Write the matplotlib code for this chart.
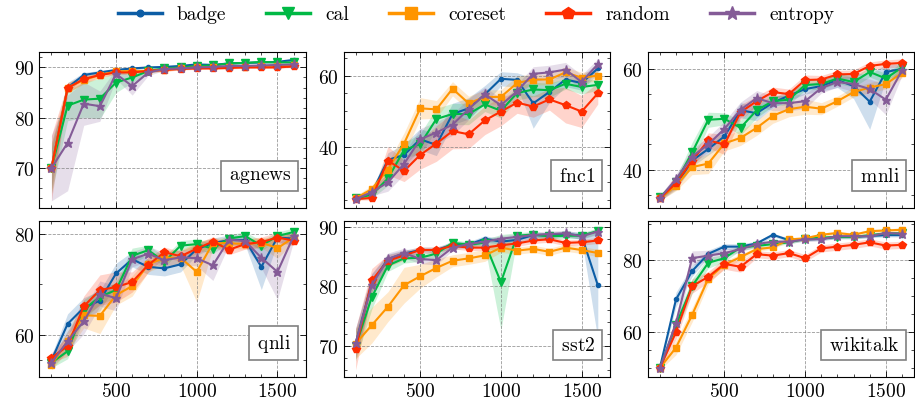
import matplotlib
matplotlib.use('Agg')
import matplotlib.pyplot as plt
from matplotlib.ticker import MultipleLocator, AutoMinorLocator
from matplotlib.lines import Line2D
import numpy as np

# budget (number of labelled samples)
budget = [100, 200, 300, 400, 500, 600, 700, 800, 900, 1000, 1100, 1200, 1300, 1400, 1500, 1600]

methods = ['badge', 'cal', 'coreset', 'random', 'entropy']
colors = ['#0C5DA5', '#00B945', '#FF9500', '#FF2C00', '#845B97']
markers = ['o', 'v', 's', 'p', '*']
msizes = [3, 5.5, 5, 5.5, 6.5]

# mean accuracy per dataset
agnews_mean = {
    'badge':   [70, 86, 88.5, 89, 89.5, 89.8, 90, 90.1, 90.3, 90.6, 90.5, 90.8, 90.9, 91, 91.1, 91.5],
    'cal':     [70, 82.4, 83.6, 83.8, 87, 88, 89.3, 89.8, 90, 90.3, 90.4, 90.8, 90.9, 91.1, 91.0, 91.0],
    'coreset': [70, 86, 87.5, 88.5, 89.2, 89.3, 89.3, 89.5, 89.8, 90, 90, 90.1, 90.1, 90.3, 90.3, 90.4],
    'random':  [70, 85.9, 87.7, 88.5, 89, 89, 89.3, 89.5, 89.7, 89.8, 89.8, 89.9, 90, 90, 90, 90.2],
    'entropy': [70, 75, 82.8, 82.3, 88.7, 86.3, 89, 89.7, 89.8, 90, 90.1, 90.3, 90.3, 90.4, 90.5, 90.6],
}
agnews_std = {
    'badge':   [4, 1.0, 0.5, 0.4, 0.3, 0.3, 0.2, 0.2, 0.2, 0.2, 0.2, 0.2, 0.2, 0.2, 0.2, 0.2],
    'cal':     [5, 3, 3.5, 4, 2.0, 1.0, 0.5, 0.3, 0.3, 0.2, 0.2, 0.2, 0.2, 0.2, 0.2, 0.2],
    'coreset': [5, 1.0, 0.8, 0.6, 0.4, 0.4, 0.3, 0.3, 0.2, 0.2, 0.2, 0.2, 0.2, 0.2, 0.2, 0.2],
    'random':  [6.5, 1.0, 0.8, 0.5, 0.4, 0.4, 0.3, 0.3, 0.2, 0.2, 0.2, 0.2, 0.2, 0.2, 0.2, 0.2],
    'entropy': [6.5, 9.5, 4.3, 3.0, 1.0, 1.8, 0.6, 0.3, 0.3, 0.2, 0.2, 0.2, 0.2, 0.2, 0.2, 0.2],
}

fnc1_mean = {
    'badge':   [25.3, 27, 36.3, 37.7, 42.1, 40.5, 49.2, 50.8, 54.7, 59.1, 58.8, 52.2, 55.4, 58.9, 57.9, 62],
    'cal':     [25.5, 26.5, 31.1, 39.1, 40.7, 47.8, 49.2, 49.2, 51.9, 50.1, 55.1, 56.1, 55.9, 57.7, 56.8, 57.4],
    'coreset': [25.5, 28.1, 33.6, 40.9, 50.8, 50.5, 56.3, 52.2, 54, 54, 57.9, 58.9, 58.9, 60.9, 59.4, 60],
    'random':  [25.3, 25.6, 36.1, 33.2, 37.7, 40.9, 44.4, 43.5, 47.4, 49.9, 52.4, 51.3, 53.3, 51.7, 49.9, 55],
    'entropy': [25.3, 27.2, 30, 35.2, 42.1, 44, 46.2, 50.6, 54.7, 51.7, 55.6, 60.5, 60.9, 61.7, 58.2, 63.2],
}
fnc1_std = {
    'badge':   [0.5, 1, 2, 3, 3, 3, 3, 3, 2.5, 2, 2, 7, 3, 2, 2, 1.5],
    'cal':     [0.5, 1, 2, 2, 3, 3, 3, 3, 2, 2, 2, 2, 2, 1.5, 2, 1.5],
    'coreset': [0.7, 1, 2, 3, 3, 2.5, 2, 2, 2, 2, 2, 1.5, 1.5, 1.5, 1.5, 1.5],
    'random':  [0.3, 0.6, 4, 3, 4, 5, 5, 4, 4, 4, 3, 3, 3, 5, 4.5, 3],
    'entropy': [0.5, 1, 2.5, 3, 3, 3, 3, 3, 2, 2, 2, 2, 2, 2, 2, 1.5],
}

mnli_mean = {
    'badge':   [34.3, 37, 41.8, 44.1, 46.6, 51.8, 51.2, 53.3, 54.7, 56, 56.6, 57.8, 56.6, 53.5, 59.4, 60],
    'cal':     [34.5, 37.5, 43.4, 49.9, 50.1, 48.3, 51.8, 53.6, 53.9, 56.8, 57, 58.1, 57.4, 59.4, 58.1, 60.3],
    'coreset': [34.3, 36.8, 40.5, 41.2, 45.2, 46.3, 48.3, 50.7, 52, 52.5, 52.1, 53.6, 55.4, 56.3, 57, 59.2],
    'random':  [34.3, 37.3, 41.8, 45.8, 45, 51.4, 53.6, 55.4, 55, 57.8, 57.9, 58.9, 59, 60.6, 61, 61.2],
    'entropy': [34.3, 38.1, 42.6, 45, 48.1, 51.9, 54.2, 53.2, 53.2, 53.6, 56.2, 57.4, 57, 56, 53.9, 59.7],
}
mnli_std = {
    'badge':   [0.5, 1, 1.2, 1.2, 1.5, 1.5, 1.5, 1, 1, 1, 1, 1.5, 2.5, 5.5, 1.5, 1],
    'cal':     [0.5, 1, 2, 1.5, 1.2, 1.5, 1.5, 1, 1, 1, 1, 1, 1, 1, 1, 1],
    'coreset': [0.5, 1, 1.5, 2, 1.5, 1.5, 1.5, 1.5, 1.5, 1.5, 1.2, 1, 1, 1, 1, 1],
    'random':  [0.5, 1, 1.2, 1.5, 2, 1.5, 1, 1, 1, 1, 0.8, 0.8, 0.8, 0.8, 0.8, 0.8],
    'entropy': [0.5, 1, 1.5, 1.5, 1.5, 1.5, 1.5, 1.5, 1.5, 1.5, 1, 1, 1.5, 2, 3, 1],
}

qnli_mean = {
    'badge':   [54.9, 62.1, 65.3, 66.7, 72.1, 74.9, 73.4, 73.1, 73.9, 76.9, 78.1, 78.7, 78.7, 73.4, 79.2, 79],
    'cal':     [54.4, 56.7, 64.9, 67.5, 68.8, 75.6, 76.7, 74.4, 77.6, 77.9, 77, 79, 79.5, 77.6, 79.5, 80.3],
    'coreset': [54, 58.7, 63.8, 63.7, 67.8, 69.6, 73.9, 75.2, 75.2, 72.4, 78.1, 78.1, 77.9, 78.2, 77.1, 79.2],
    'random':  [55.4, 57.7, 65.6, 68.8, 69.4, 70.4, 73.8, 76.3, 75.5, 77, 78.4, 76.8, 77.9, 78.3, 79.2, 78.6],
    'entropy': [54.4, 58.7, 62.6, 68.1, 67.2, 74.9, 76, 74.7, 75.3, 75.1, 73.7, 78.8, 78.5, 75.2, 72.4, 79.5],
}
qnli_std = {
    'badge':   [1, 2, 2, 2, 2, 1.5, 1.5, 1.5, 1.5, 1.2, 1, 1, 1, 4.5, 1, 1],
    'cal':     [1, 1.5, 2, 1.5, 1.5, 1.5, 1, 1, 1, 1, 1, 0.8, 0.8, 1, 0.8, 0.8],
    'coreset': [1, 2, 2.5, 3.5, 2, 2, 1.5, 1.5, 1.5, 6, 1, 1, 1, 1, 2, 1],
    'random':  [1, 2, 2, 3, 3, 2, 1.5, 1, 1, 1, 1, 1, 1, 1, 1, 1],
    'entropy': [1, 2, 2.5, 2.5, 2.5, 1.5, 1.5, 1.5, 1.5, 1.5, 3, 1, 1, 2, 5.5, 1],
}

sst2_mean = {
    'badge':   [70.4, 80.6, 84.6, 85.5, 86.1, 86.1, 87, 87, 88, 87.5, 87.8, 88.6, 88.5, 88.8, 88.5, 80.2],
    'cal':     [70, 78.2, 83.5, 84.7, 84.8, 85.5, 87.3, 87, 87.3, 80.7, 88.5, 88.7, 88.4, 88.5, 88.5, 89.3],
    'coreset': [70.4, 73.5, 76.6, 80.2, 81.7, 83.1, 84.3, 84.7, 85.2, 86.5, 86, 86.3, 85.8, 86.5, 86.1, 85.6],
    'random':  [69.5, 81, 84.3, 85.2, 86.1, 86.1, 86.8, 86.5, 86.5, 86.9, 87.2, 87.7, 87.9, 87.3, 87.4, 87.7],
    'entropy': [70.5, 80.2, 84.6, 85.6, 84.6, 84.4, 86.5, 87.1, 87.5, 88, 88.3, 88.6, 88.8, 88.9, 88.4, 89.2],
}
sst2_std = {
    'badge':   [2.5, 1.5, 0.8, 0.6, 0.5, 0.5, 0.5, 0.5, 0.5, 0.5, 0.5, 0.5, 0.5, 0.5, 0.6, 9],
    'cal':     [2.5, 2, 1, 0.8, 0.6, 0.6, 0.5, 0.5, 0.6, 8, 0.5, 0.5, 0.5, 0.5, 0.5, 0.5],
    'coreset': [2.5, 3, 2.5, 3, 2, 1.5, 1, 1, 1, 0.8, 0.6, 0.6, 0.6, 0.6, 0.6, 0.6],
    'random':  [3.5, 2, 1, 0.8, 0.5, 0.5, 0.5, 0.5, 0.5, 0.5, 0.5, 0.5, 0.5, 0.5, 0.5, 0.5],
    'entropy': [2.5, 2, 1, 0.8, 0.8, 0.8, 0.5, 0.5, 0.5, 0.5, 0.5, 0.5, 0.5, 0.5, 0.5, 0.5],
}

wikitalk_mean = {
    'badge':   [50, 69.1, 77, 81.8, 83.8, 83.8, 84.7, 87.1, 85.6, 85.8, 86, 86.5, 86.5, 86.8, 87, 87],
    'cal':     [50, 62, 72.8, 79.3, 80.6, 83.6, 84, 84.5, 85, 86, 86.3, 86.5, 86.5, 87, 87.5, 87.5],
    'coreset': [50, 55.7, 64.8, 74.9, 78.8, 80.9, 83.1, 83.6, 85.8, 86.1, 87.1, 87.6, 87.1, 88.1, 88.3, 88.5],
    'random':  [50, 60, 72.8, 75.4, 79, 78.2, 81.7, 81.3, 82, 80.6, 83.3, 83.8, 84.3, 85, 84.1, 84.3],
    'entropy': [50, 62.5, 80.6, 81.3, 82, 83.1, 84.5, 85.2, 85.2, 85.8, 85.9, 86.7, 86.7, 86.7, 87.6, 87.4],
}
wikitalk_std = {
    'badge':   [0.5, 2, 1.5, 1, 0.8, 0.8, 0.6, 0.5, 0.5, 0.5, 0.5, 0.5, 0.5, 0.5, 0.5, 0.5],
    'cal':     [0.5, 2, 2, 1.5, 1, 0.8, 0.6, 0.5, 0.5, 0.5, 0.5, 0.5, 0.5, 0.5, 0.5, 0.5],
    'coreset': [0.5, 2, 2, 1.5, 1, 0.8, 0.6, 0.5, 0.5, 0.5, 0.5, 0.5, 0.5, 0.5, 0.5, 0.5],
    'random':  [0.5, 2, 2, 1.5, 1.5, 1.5, 1, 1, 1, 1, 1, 1, 1, 1, 1, 1],
    'entropy': [0.5, 2, 2, 1.5, 1, 0.8, 0.6, 0.5, 0.5, 0.5, 0.5, 0.5, 0.5, 0.5, 0.5, 0.5],
}

datasets = ['agnews', 'fnc1', 'mnli', 'qnli', 'sst2', 'wikitalk']
means = [agnews_mean, fnc1_mean, mnli_mean, qnli_mean, sst2_mean, wikitalk_mean]
stds = [agnews_std, fnc1_std, mnli_std, qnli_std, sst2_std, wikitalk_std]
ysteps = [10, 20, 20, 20, 10, 20]

# estilo parecido com o SciencePlots
plt.rcParams['font.family'] = 'serif'
plt.rcParams['font.serif'] = ['cmr10']
plt.rcParams['mathtext.fontset'] = 'cm'
plt.rcParams['axes.formatter.use_mathtext'] = True
plt.rcParams['font.size'] = 14
plt.rcParams['axes.linewidth'] = 0.8

fig, axes = plt.subplots(2, 3, figsize=(9.15, 4.06), dpi=100, sharex=True)
fig.subplots_adjust(left=0.043, right=0.999, top=0.87, bottom=0.069, wspace=0.142, hspace=0.083)

x = np.array(budget)
for ax, name, mdict, sdict, ystep in zip(axes.flat, datasets, means, stds, ysteps):
    for m, c, mk, ms in zip(methods, colors, markers, msizes):
        y = np.array(mdict[m])
        s = np.array(sdict[m])
        ax.fill_between(x, y - s, y + s, color=c, alpha=0.2, lw=0)
        ax.plot(x, y, color=c, marker=mk, ms=ms, lw=1.5, label=m)

    ax.xaxis.set_major_locator(MultipleLocator(500))
    ax.xaxis.set_minor_locator(AutoMinorLocator(5))
    ax.yaxis.set_major_locator(MultipleLocator(ystep))
    ax.yaxis.set_minor_locator(AutoMinorLocator())
    ax.tick_params(which='both', direction='in', top=True, right=True)
    ax.tick_params(which='major', length=4, width=0.6)
    ax.tick_params(which='minor', length=2, width=0.5)
    ax.grid(True, which='major', ls='--', lw=0.6, color='gray', alpha=0.8)

    # caixa com o nome do dataset
    ax.annotate(r'$\,$' + name + r'$\,$', xy=(1, 0), xycoords='axes fraction',
                xytext=(-10.2, 16.7), textcoords='offset points', ha='right', va='bottom',
                bbox=dict(boxstyle='square,pad=0.32', fc='white', ec='gray', lw=1.2))

# legenda com marcadores maiores
handles = [Line2D([], [], color=c, marker=mk, ms=ms * 1.6, lw=2.5)
           for c, mk, ms in zip(colors, markers, msizes)]
fig.legend(handles, methods, loc='center', ncol=5, frameon=False,
           bbox_to_anchor=(0.52, 0.962), handlelength=2.27, handletextpad=0.77,
           columnspacing=2.06, fontsize=14)

fig.savefig('out.png', dpi=100)
